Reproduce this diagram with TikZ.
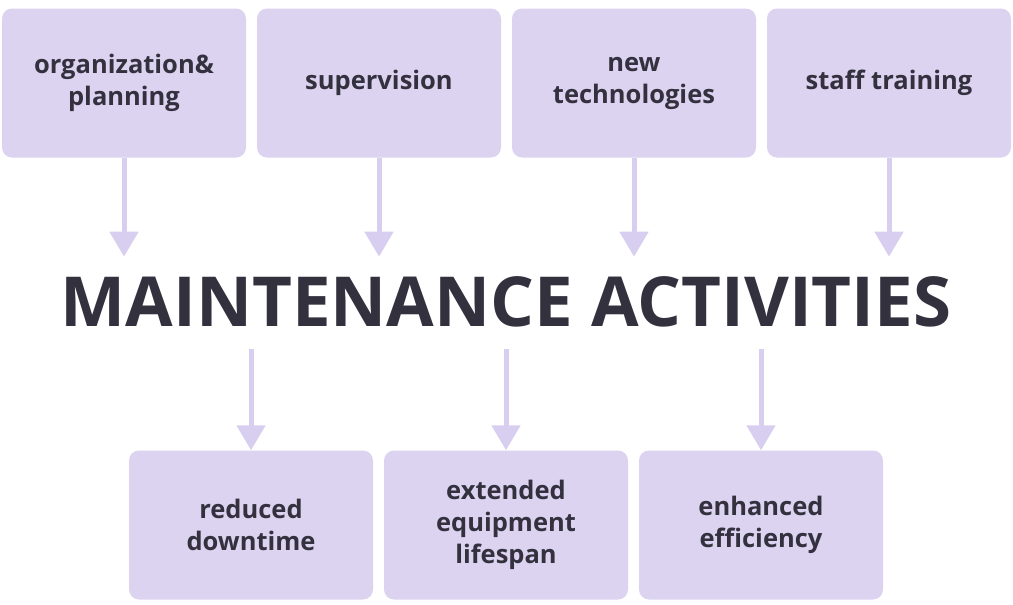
\documentclass[tikz,border=0pt]{standalone}
\usepackage{fontspec}
\setmainfont{Open Sans}
\usepackage{xcolor}
\usetikzlibrary{arrows.meta,calc}
\definecolor{boxfill}{HTML}{DCD3F1}
\definecolor{arrowcol}{HTML}{D8CFF0}
\definecolor{textcol}{HTML}{34313F}

\begin{document}
\begin{tikzpicture}[x=1pt,y=-1pt]
            \tikzset{box/.style = {fill=boxfill, rounded corners=10pt, minimum width=244pt, minimum height=149pt, inner sep=0pt, align=center, text=textcol, font=\fontsize{25.5}{32}\selectfont\bfseries}}
            \tikzset{edge/.style = {arrowcol, line width=5pt, -{Triangle[length=25pt,width=28pt]}}}
            \useasboundingbox (0,0) rectangle (1013,605);

            % causes
            \node[box] (c1) at (124,83) {organization\&\\planning};
            \node[box] (c2) at (379,83) {supervision};
            \node[box] (c3) at (634,83) {new\\technologies};
            \node[box] (c4) at (889,83) {staff training};

            % title
            \node[text=textcol, font=\fontsize{69}{69}\selectfont\bfseries, inner sep=0pt] (title) at (506,302) {MAINTENANCE ACTIVITIES};

            % effects
            \node[box] (e1) at (251,525) {reduced\\downtime};
            \node[box] (e2) at (506,525) {extended\\equipment\\lifespan};
            \node[box] (e3) at (761,525) {enhanced\\efficiency};

            % edges
            \foreach \x in {1,2,3,4} {\draw[edge] (c\x.south) -- ++(0,99);}
            \foreach \x in {1,2,3} {\draw[edge] (e\x.north) ++(0,-101) -- (e\x.north);}

          \end{tikzpicture}
\end{document}
